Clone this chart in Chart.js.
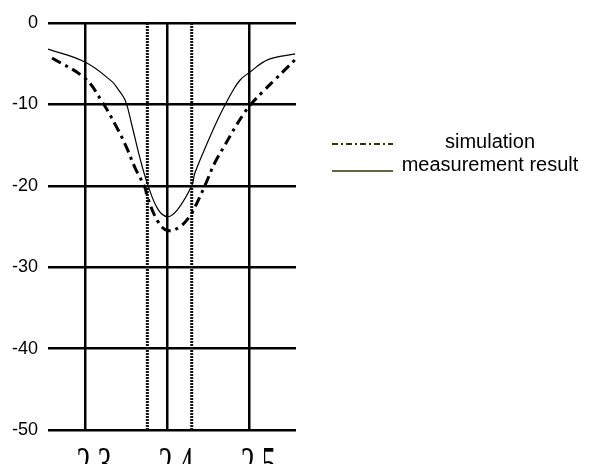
<!DOCTYPE html>
<html>
<head>
<meta charset="utf-8">
<title>S11</title>
<script src="https://cdn.jsdelivr.net/npm/chart.js@4/dist/chart.umd.min.js"></script>
<style>
    html, body { margin: 0; padding: 0; background: #fff; overflow: hidden; }
    #wrap { width: 601px; height: 464px; overflow: hidden; }
    canvas { display: block; }
</style>
</head>
<body>
<div id="wrap"><canvas id="chart-s11" width="601" height="490"></canvas></div>
<script>
// Frequency (GHz) vs return loss (dB)
const xTicks = [2.3, 2.4, 2.5];
const yTicks = [0, -10, -20, -30, -40, -50];

const simFreq = [2.260, 2.300, 2.321, 2.337, 2.349, 2.361, 2.373, 2.376, 2.389, 2.401, 2.416, 2.428, 2.434, 2.446, 2.458, 2.471, 2.483, 2.495, 2.501, 2.516, 2.532, 2.556];
const simDb = [-4.3, -6.8, -9.7, -12.5, -14.9, -17.8, -20.2, -21.4, -24.4, -25.5, -25.0, -23.7, -22.6, -20.0, -17.2, -14.9, -12.8, -10.9, -10.1, -8.5, -6.9, -4.5];

const measFreq = [2.255, 2.300, 2.333, 2.340, 2.349, 2.357, 2.367, 2.376, 2.389, 2.401, 2.413, 2.430, 2.434, 2.450, 2.462, 2.471, 2.479, 2.489, 2.500, 2.523, 2.556];
const measDb = [-3.2, -4.8, -7.2, -8.1, -9.5, -12.5, -16.6, -19.7, -22.9, -23.8, -22.9, -20.0, -18.4, -14.5, -11.8, -10.0, -8.5, -7.0, -6.1, -4.5, -3.8];

// -20 dB band edges
const markerFreqs = [2.376, 2.430];

const seriesLabels = ['simulation', 'measurement result'];

const toPoints = (xs, ys) => xs.map((x, i) => ({ x, y: ys[i] }));

const markerSets = markerFreqs.map(f => ({
    label: 'marker',
    data: [{ x: f, y: yTicks[yTicks.length - 1] }, { x: f, y: yTicks[0] }],
    borderColor: '#111',
    borderWidth: 3,
    borderDash: [2, 1],
    pointRadius: 0,
    tension: 0,
}));

// side legend, drawn next to the plot
const sideLegend = {
    id: 'sideLegend',
    afterDraw(chart) {
        const ctx = chart.ctx;
        const rows = [
            { label: seriesLabels[0], textY: 148, lineY: 144, dash: [6, 3, 2, 3], width: 2 },
            { label: seriesLabels[1], textY: 171, lineY: 171, dash: [], width: 1.5 },
        ];
        ctx.save();
        rows.forEach(r => {
            ctx.beginPath();
            ctx.setLineDash(r.dash);
            ctx.strokeStyle = '#333300';
            ctx.lineWidth = r.width;
            ctx.moveTo(332, r.lineY);
            ctx.lineTo(393, r.lineY);
            ctx.stroke();
            ctx.setLineDash([]);
            ctx.fillStyle = '#000';
            ctx.font = '20px "Liberation Sans", Arial, sans-serif';
            ctx.textAlign = 'center';
            ctx.textBaseline = 'alphabetic';
            ctx.fillText(r.label, 490, r.textY);
        });
        ctx.restore();
    },
};

// tall serif frequency labels under the plot (they run off the bottom edge)
const freqLabels = {
    id: 'freqLabels',
    afterDraw(chart) {
        const ctx = chart.ctx;
        const xs = chart.scales.x;
        const top = chart.chartArea.bottom + 18;
        const size = 28, stretch = 1.7, capH = 0.662 * size;
        ctx.save();
        ctx.fillStyle = '#000';
        ctx.font = `${size}px "Liberation Serif", "Times New Roman", serif`;
        ctx.textAlign = 'center';
        ctx.textBaseline = 'alphabetic';
        xTicks.forEach(v => {
            ctx.save();
            ctx.translate(xs.getPixelForValue(v) + 9, top + capH * stretch);
            ctx.scale(1, stretch);
            ctx.fillText(v.toFixed(1), 0, 0);
            ctx.restore();
        });
        ctx.restore();
    },
};

const ctx = document.getElementById('chart-s11').getContext('2d');
new Chart(ctx, {
    type: 'line',
    data: {
        datasets: [
            {
                label: seriesLabels[0],
                data: toPoints(simFreq, simDb),
                borderColor: '#000',
                borderWidth: 3,
                borderDash: [10, 5, 3, 5],
                pointRadius: 0,
                tension: 0.4,
            },
            {
                label: seriesLabels[1],
                data: toPoints(measFreq, measDb),
                borderColor: '#000',
                borderWidth: 1.2,
                pointRadius: 0,
                tension: 0.4,
            },
            ...markerSets,
        ],
    },
    plugins: [sideLegend, freqLabels],
    options: {
        responsive: false,
        animation: false,
        events: [],
        layout: { padding: { top: 23, right: 305, bottom: 0, left: 0 } },
        plugins: {
            legend: { display: false },
            tooltip: { enabled: false },
        },
        scales: {
            x: {
                type: 'linear',
                min: 2.255,
                max: 2.557,
                afterBuildTicks: s => { s.ticks = xTicks.map(v => ({ value: v })); },
                afterFit: s => { s.height = 60; },
                border: { display: false },
                grid: { color: '#000', lineWidth: 2.5, drawTicks: false },
                ticks: { display: false },
            },
            y: {
                min: -50,
                max: 0,
                afterBuildTicks: s => { s.ticks = yTicks.map(v => ({ value: v })); },
                afterFit: s => { s.width = 48; },
                border: { display: false },
                grid: { color: '#000', lineWidth: 2.5, drawTicks: false },
                ticks: {
                    color: '#000',
                    font: { family: '"Liberation Sans", Arial, sans-serif', size: 18 },
                    padding: 10,
                },
            },
        },
    },
});
</script>
</body>
</html>
